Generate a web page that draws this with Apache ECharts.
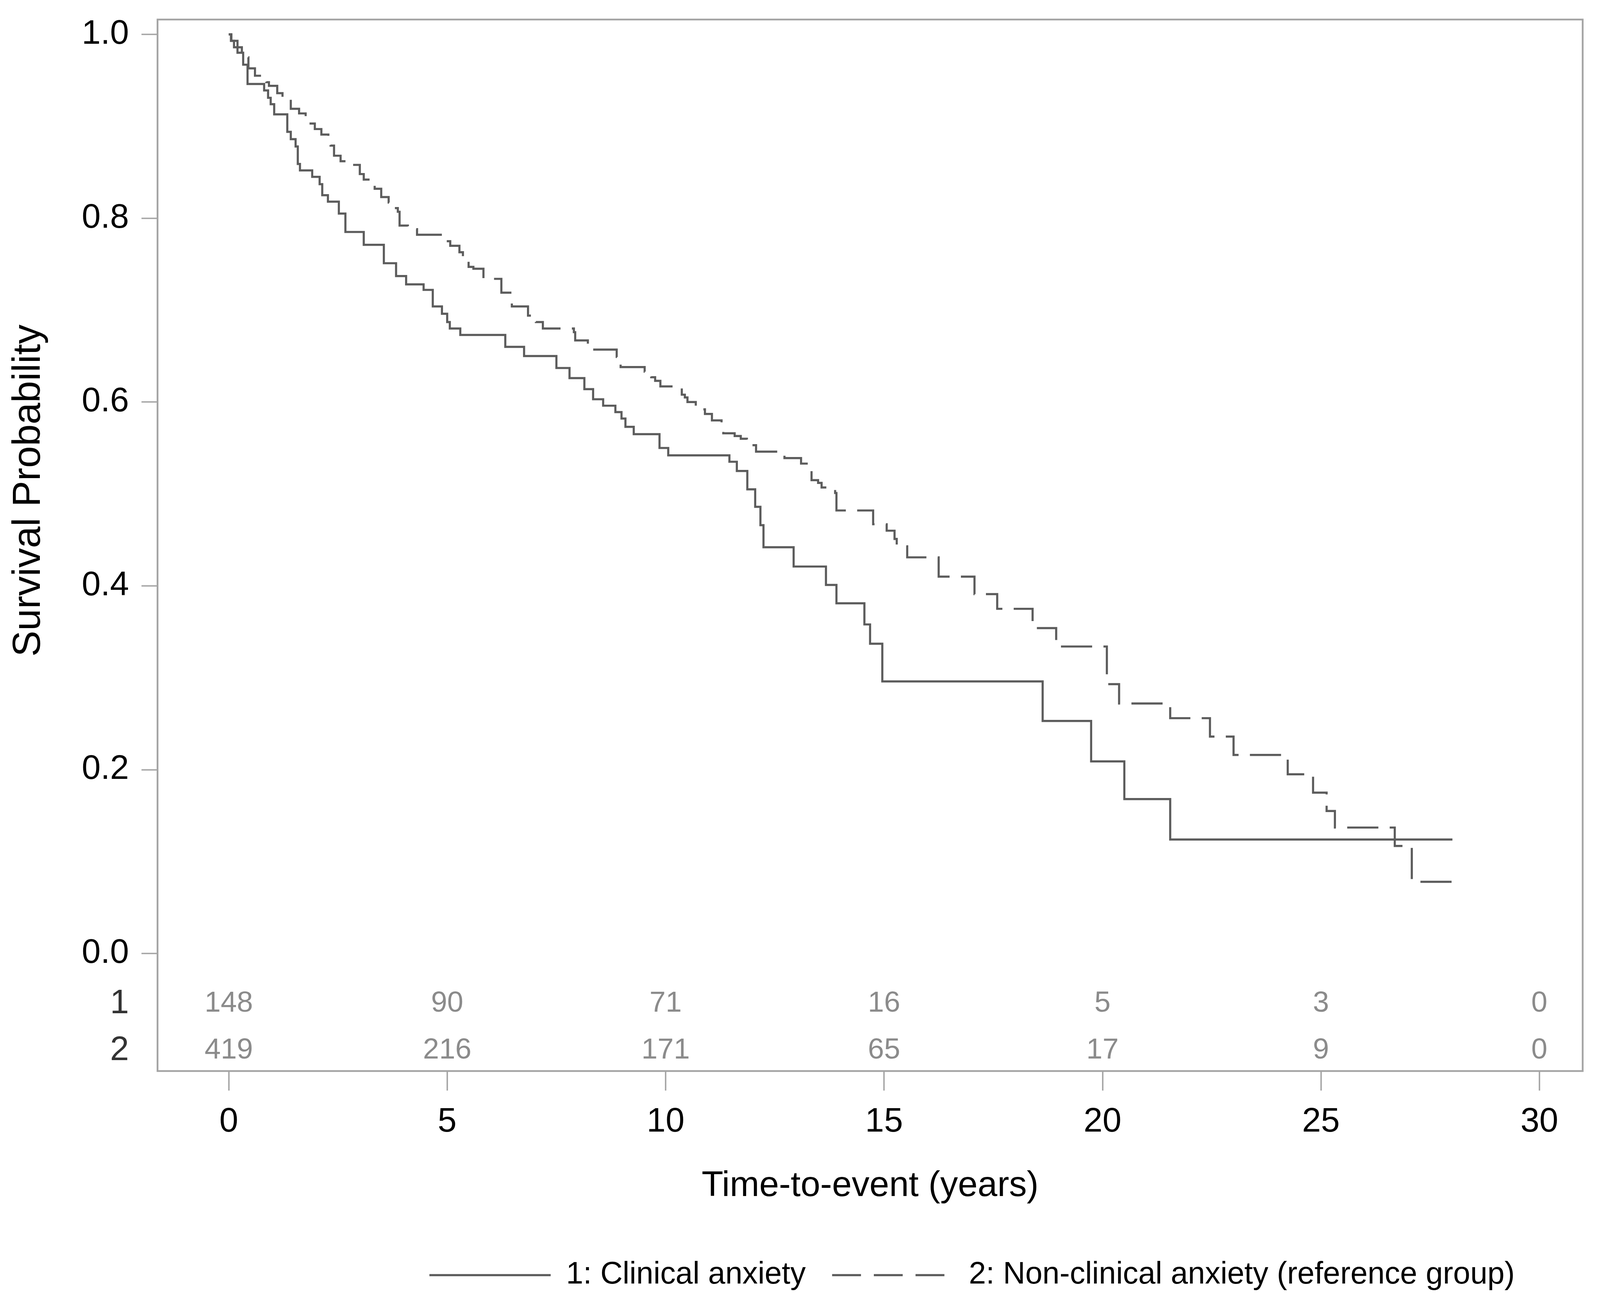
<!DOCTYPE html>
<html><head><meta charset="utf-8">
<script src="https://cdn.jsdelivr.net/npm/echarts@6/dist/echarts.min.js"></script>
<style>html,body{margin:0;padding:0;background:#fff;overflow:hidden}#c{width:100vw;height:100vh}</style>
</head><body><div id="c"></div>
<script>
// Group 1: Clinical anxiety (Kaplan-Meier steps)
const clinicalTimes = [0,0.06,0.2,0.33,0.43,0.81,0.90,0.96,1.04,1.34,1.42,1.53,1.58,1.63,1.91,2.08,2.14,2.27,2.52,2.67,3.09,3.55,3.83,4.06,4.46,4.67,4.88,5.00,5.06,5.30,6.33,6.76,7.50,7.80,8.14,8.34,8.57,8.85,8.99,9.08,9.27,9.86,10.06,11.46,11.63,11.87,12.05,12.17,12.24,12.93,13.67,13.91,14.55,14.68,14.96,18.63,19.74,20.5,21.55,28.01];
const clinicalSurv = [1,0.993,0.980,0.967,0.946,0.939,0.931,0.924,0.913,0.894,0.886,0.878,0.859,0.852,0.845,0.837,0.825,0.818,0.805,0.785,0.771,0.751,0.737,0.728,0.722,0.704,0.696,0.687,0.680,0.673,0.660,0.650,0.637,0.626,0.614,0.603,0.596,0.589,0.582,0.573,0.565,0.550,0.542,0.535,0.525,0.505,0.486,0.466,0.442,0.421,0.401,0.381,0.358,0.337,0.296,0.253,0.209,0.168,0.124,0.124];
// Group 2: Non-clinical anxiety (reference group)
const refTimes = [0,0.05,0.12,0.30,0.45,0.60,0.86,0.92,1.11,1.23,1.42,1.61,1.76,1.82,1.97,2.12,2.28,2.33,2.41,2.56,2.71,3.00,3.09,3.26,3.34,3.49,3.66,3.74,3.87,3.91,4.10,4.31,4.90,5.07,5.28,5.36,5.49,5.60,5.83,6.24,6.48,6.85,7.03,7.19,7.90,7.93,8.22,8.34,8.88,8.97,9.52,9.67,9.76,9.88,10.37,10.44,10.50,10.69,10.90,11.06,11.28,11.32,11.58,11.72,11.86,12.07,12.72,13.10,13.26,13.34,13.49,13.57,13.88,13.91,14.75,15.06,15.24,15.29,15.53,16.25,17.07,17.59,18.40,18.94,20.10,20.38,21.55,22.46,23.00,24.24,24.82,25.13,25.32,26.69,27.08,28.01];
const refSurv = [1,0.993,0.986,0.975,0.963,0.955,0.948,0.944,0.936,0.929,0.919,0.914,0.907,0.903,0.897,0.891,0.885,0.879,0.868,0.862,0.858,0.848,0.842,0.837,0.832,0.823,0.817,0.811,0.807,0.792,0.788,0.782,0.775,0.770,0.763,0.756,0.747,0.745,0.734,0.719,0.704,0.694,0.687,0.680,0.676,0.667,0.662,0.657,0.649,0.638,0.633,0.627,0.623,0.617,0.608,0.605,0.600,0.592,0.587,0.580,0.572,0.566,0.563,0.560,0.553,0.546,0.539,0.533,0.525,0.515,0.512,0.507,0.501,0.482,0.467,0.460,0.451,0.443,0.431,0.410,0.391,0.375,0.354,0.334,0.293,0.272,0.256,0.236,0.216,0.195,0.175,0.155,0.137,0.117,0.078,0.078];
// Number at risk
const riskTimes = [0,5,10,15,20,25,30];
const riskClinical = [148,90,71,16,5,3,0];
const riskReference = [419,216,171,65,17,9,0];
const riskRows = ['1','2'];
// Tick labels
const xTicks = [0,5,10,15,20,25,30];
const yTicks = [0,0.2,0.4,0.6,0.8,1.0];
const seriesNames = ['1: Clinical anxiety','2: Non-clinical anxiety (reference group)'];

const FONT = 'Liberation Sans, Arial, sans-serif';
const LINE = '#5c5c5c';
const FRAME = '#a4a4a4';
const zip = (a,b) => a.map((t,i)=>[t,b[i]]);
const riskData = [];
riskTimes.forEach((t,i)=>{ riskData.push([t,riskRows[0],riskClinical[i]]); riskData.push([t,riskRows[1],riskReference[i]]); });

const el = document.getElementById('c');
const chart = echarts.init(el);
const W = chart.getWidth(), H = chart.getHeight();
const sx = W/4987, sy = H/3364, sf = Math.sqrt(sx*sy);
const X = v => v*sx, Y = v => v*sy, F = v => v*sf;

// reference layout (px): frame 491..4933 x 50..2742; x=0 at 713, x=30 at 4798; y=1 at 88, y=0 at 2441
const pxPerYear = (4798-713)/30, pxPerUnit = 2441-88;
const xMin = -(713-491)/pxPerYear, xMax = 30 + (4933-4798)/pxPerYear;
const yMin = -(2742-2441)/pxPerUnit, yMax = 1 + (88-50)/pxPerUnit;

chart.setOption({
  animation:false,
  backgroundColor:'#fff',
  textStyle:{fontFamily:FONT},
  grid:[
    {left:X(491),right:X(4987-4933),top:Y(50),bottom:Y(3364-2742),outerBoundsMode:'none',containLabel:false,show:true,borderColor:FRAME,borderWidth:F(5),backgroundColor:'transparent'},
    {left:X(491),right:X(4987-4933),top:Y(2510),bottom:Y(3364-2750),outerBoundsMode:'none',containLabel:false,show:false},
    // strip under the frame holding the x tick marks
    {left:X(713),right:X(4987-4798),top:Y(2742),bottom:Y(3364-2792),outerBoundsMode:'none',containLabel:false,show:false}
  ],
  xAxis:[
    {gridIndex:0,type:'value',min:xMin,max:xMax,position:'bottom',
     axisLine:{show:false,onZero:false},splitLine:{show:false},axisTick:{show:false},
     axisLabel:{show:true,customValues:xTicks,margin:Y(88),fontSize:F(96),color:'#000',fontFamily:FONT},
     name:'Time-to-event (years)',nameLocation:'middle',nameGap:Y(250),nameMoveOverlap:false,
     nameTextStyle:{fontSize:F(100),color:'#000',fontFamily:FONT}},
    {gridIndex:1,type:'value',min:xMin,max:xMax,show:false},
    {gridIndex:2,type:'value',min:xTicks[0],max:xTicks[xTicks.length-1],interval:5,
     axisLine:{show:false,onZero:false},axisTick:{show:false},axisLabel:{show:false},
     splitLine:{show:true,lineStyle:{color:FRAME,width:F(4),type:'solid'}}}
  ],
  yAxis:[
    {gridIndex:0,type:'value',min:yMin,max:yMax,position:'left',
     axisLine:{show:false,onZero:false},splitLine:{show:false},
     axisTick:{show:true,inside:false,length:X(50),customValues:yTicks,lineStyle:{color:FRAME,width:F(4)}},
     axisLabel:{show:true,customValues:yTicks,margin:X(89),fontSize:F(96),color:'#000',fontFamily:FONT,formatter:v=>Number(v).toFixed(1)},
     name:'Survival Probability',nameLocation:'middle',nameGap:X(340),nameMoveOverlap:false,
     nameTextStyle:{fontSize:Y(100),color:'#000',fontFamily:FONT,padding:[0,0,0,Y(2*(1396-1256))]}},
    {gridIndex:1,type:'category',data:riskRows,inverse:true,
     axisLine:{show:false,onZero:false},axisTick:{show:false},splitLine:{show:false},
     axisLabel:{interval:0,margin:X(89),fontSize:F(96),color:'#333',fontFamily:FONT}},
    {gridIndex:2,type:'value',min:0,max:1,show:false}
  ],
  legend:{
    left:X(1329),top:Y(3220),itemWidth:X(378),itemHeight:Y(96),itemGap:X(79),
    textStyle:{fontSize:X(96),color:'#000',fontFamily:FONT,padding:[0,0,0,X(42)]},
    itemStyle:{color:'rgba(0,0,0,0)',opacity:0,borderWidth:0},
    data:[
      {name:seriesNames[0],lineStyle:{width:F(6),color:LINE,type:'solid'},itemStyle:{opacity:0}},
      {name:seriesNames[1],lineStyle:{width:F(6),color:LINE,type:[X(90),X(40)]},itemStyle:{opacity:0}}
    ]
  },
  series:[
    {name:seriesNames[0],type:'line',step:'end',xAxisIndex:0,yAxisIndex:0,
     data:zip(clinicalTimes,clinicalSurv),symbol:'none',showSymbol:false,
     lineStyle:{color:LINE,width:F(6),type:'solid',cap:'butt',join:'miter'},itemStyle:{color:LINE}},
    {name:seriesNames[1],type:'line',step:'end',xAxisIndex:0,yAxisIndex:0,
     data:zip(refTimes,refSurv),symbol:'none',showSymbol:false,
     lineStyle:{color:LINE,width:F(6),type:[F(88),F(32)],cap:'butt',join:'miter'},itemStyle:{color:LINE}},
    {name:'risk',type:'scatter',xAxisIndex:1,yAxisIndex:1,data:riskData,
     symbol:'circle',symbolSize:1,itemStyle:{color:'rgba(0,0,0,0)'},clip:false,silent:true,
     label:{show:true,position:'inside',formatter:p=>String(p.value[2]),fontSize:F(82),color:'#6e6e6e',fontFamily:FONT}}
  ]
});
</script></body></html>
